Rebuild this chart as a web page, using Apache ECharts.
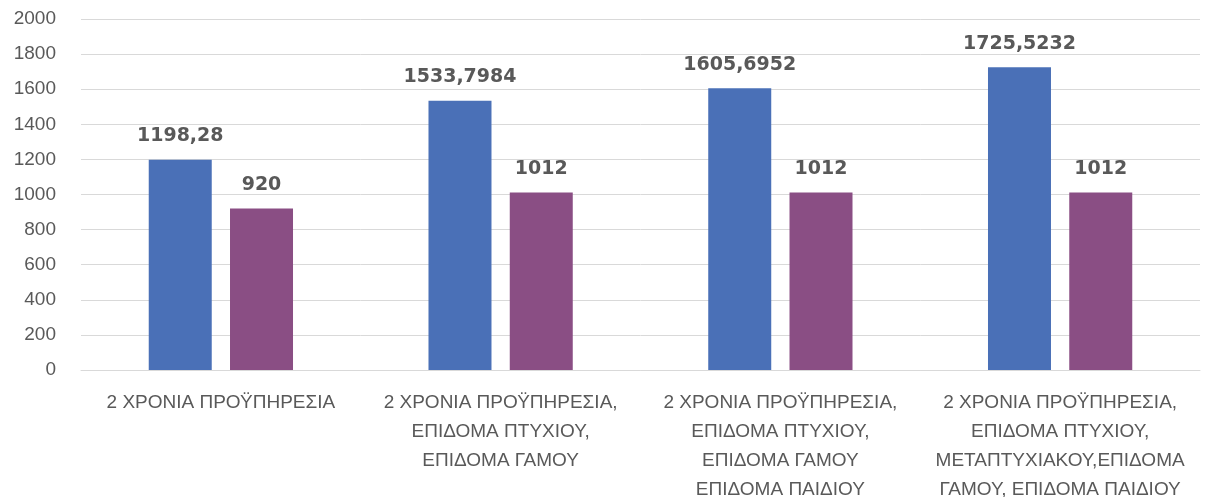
<!DOCTYPE html>
<html>
<head>
<meta charset="utf-8">
<script src="https://cdn.jsdelivr.net/npm/echarts@6/dist/echarts.min.js"></script>
<style>html,body{margin:0;padding:0;background:#fff;}#c{width:1206px;height:497px;}</style>
</head>
<body>
<div id="c"></div>
<script>
var categories = [
  "2 ΧΡΟΝΙΑ ΠΡΟΫΠΗΡΕΣΙΑ",
  "2 ΧΡΟΝΙΑ ΠΡΟΫΠΗΡΕΣΙΑ,\nΕΠΙΔΟΜΑ ΠΤΥΧΙΟΥ,\nΕΠΙΔΟΜΑ ΓΑΜΟΥ",
  "2 ΧΡΟΝΙΑ ΠΡΟΫΠΗΡΕΣΙΑ,\nΕΠΙΔΟΜΑ ΠΤΥΧΙΟΥ,\nΕΠΙΔΟΜΑ ΓΑΜΟΥ\nΕΠΙΔΟΜΑ ΠΑΙΔΙΟΥ",
  "2 ΧΡΟΝΙΑ ΠΡΟΫΠΗΡΕΣΙΑ,\nΕΠΙΔΟΜΑ ΠΤΥΧΙΟΥ,\nΜΕΤΑΠΤΥΧΙΑΚΟΥ,ΕΠΙΔΟΜΑ\nΓΑΜΟΥ, ΕΠΙΔΟΜΑ ΠΑΙΔΙΟΥ"
];
var seriesA = [1198.28, 1533.7984, 1605.6952, 1725.5232];
var seriesB = [920, 1012, 1012, 1012];
var yTicks = [0, 200, 400, 600, 800, 1000, 1200, 1400, 1600, 1800, 2000];

var chart = echarts.init(document.getElementById('c'));
var labelStyle = {
  show: true,
  position: 'top',
  distance: 14,
  color: '#595959',
  fontFamily: 'DejaVu Sans',
  fontWeight: 'bold',
  fontSize: 19,
  formatter: function (p) { return String(p.value).replace('.', ','); }
};
chart.setOption({
  animation: false,
  grid: { left: 81, right: 6, top: 19, bottom: 127, containLabel: false, outerBoundsMode: 'none' },
  xAxis: {
    type: 'category',
    data: categories,
    axisLine: { lineStyle: { color: '#D9D9D9', width: 1 } },
    axisTick: { show: false },
    axisLabel: {
      color: '#595959',
      fontFamily: 'Liberation Sans',
      fontSize: 19,
      lineHeight: 29,
      margin: 18,
      interval: 0,
      align: 'center'
    }
  },
  yAxis: {
    type: 'value',
    min: yTicks[0],
    max: yTicks[yTicks.length - 1],
    interval: 200,
    axisLine: { show: false },
    axisTick: { show: false },
    splitLine: { lineStyle: { color: '#D9D9D9', width: 1 } },
    axisLabel: {
      color: '#595959',
      fontFamily: 'Liberation Sans',
      fontSize: 19,
      margin: 25,
      formatter: function (v) { return String(v); }
    }
  },
  series: [
    {
      type: 'bar',
      data: seriesA,
      barWidth: 63,
      barGap: '29%',
      itemStyle: { color: '#4A70B7' },
      label: labelStyle
    },
    {
      type: 'bar',
      data: seriesB,
      barWidth: 63,
      barGap: '29%',
      itemStyle: { color: '#8A4E84' },
      label: labelStyle
    }
  ]
});
</script>
</body>
</html>
